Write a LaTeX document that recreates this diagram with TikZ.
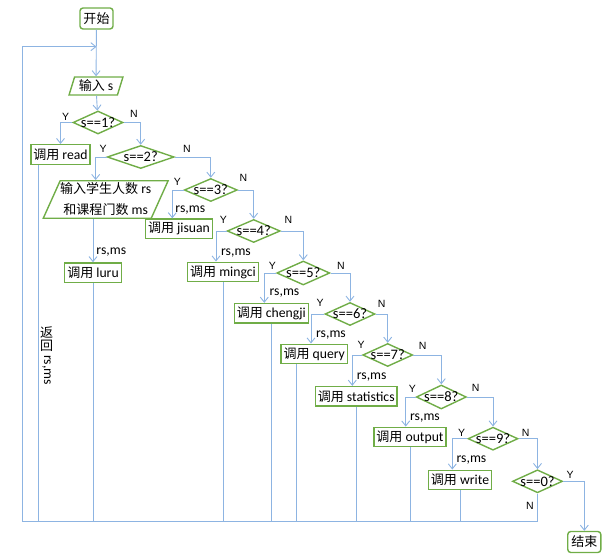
\documentclass[tikz,border=0pt]{standalone}
\usepackage{fontspec}
\setmainfont{Carlito}
\newfontfamily\cjk[Scale=0.95]{Noto Sans CJK SC}
\newfontfamily\arial{Liberation Sans}
\usepackage[RGB]{xcolor}
\usetikzlibrary{shapes.geometric,arrows.meta}
\definecolor{G}{RGB}{112,173,71}
\definecolor{B}{RGB}{141,180,226}
\newcommand{\zh}[1]{{\cjk #1}}
\tikzset{
  box/.style={draw=G,line width=1.4pt,fill=white,inner xsep=2.5pt,inner ysep=0pt,
    minimum height=19.5pt,font=\fontsize{13.7}{21}\selectfont},
  term/.style={box,rounded corners=3pt,inner xsep=3.5pt,minimum height=21pt},
  io/.style={box,trapezium,trapezium stretches=true},
  ask/.style={box,diamond,aspect=2.2,inner sep=-1.5pt,minimum width=50pt,minimum height=23pt,
    font=\fontsize{14.5}{16}\selectfont},
  yn/.style={font=\arial\fontsize{10.5}{12}\selectfont},
  lab/.style={font=\fontsize{13.7}{15}\selectfont,inner sep=0pt},
  flow/.style={draw=B,line width=0.9pt},
  arr/.style={flow,-{Straight Barb[length=5pt,width=8pt]}},
}
\begin{document}
\begin{tikzpicture}[x=1pt,y=-1pt]
\useasboundingbox (0,0) rectangle (612,559);
% boxes
\node[term] (start) at (96.5,18.5) {\zh{开始}};
\node[io,trapezium left angle=67,trapezium right angle=113,minimum width=54pt,minimum height=18pt] (ins) at (96,86) {\zh{输入} s};
\node[ask] (d1) at (98,122.5) {s==1?};
\node[box] (read) at (60.5,154.5) {\zh{调用} read};
\node[ask,minimum width=67pt] (d2) at (140.7,157) {s==2?};
\node[io,trapezium left angle=63,trapezium right angle=117,inner xsep=0pt,minimum width=120pt,minimum height=37.5pt,align=center] (inrm) at (105.7,199.5) {\zh{输入学生人数} rs\\\zh{和课程门数} ms};
\node[box] (luru) at (93,272.7) {\zh{调用} luru};
\node[ask,minimum width=53pt] (d3) at (210.8,190) {s==3?};
\node[box] (jisuan) at (179,228.8) {\zh{调用} jisuan};
\node[ask,minimum width=53pt] (d4) at (253.7,231) {s==4?};
\node[box] (mingci) at (223,272) {\zh{调用} mingci};
\node[ask,minimum width=53pt,minimum height=24pt] (d5) at (303.3,273) {s==5?};
\node[box] (chengji) at (271.3,313.3) {\zh{调用} chengji};
\node[ask] (d6) at (350,314) {s==6?};
\node[box] (query) at (314.2,354) {\zh{调用} query};
\node[ask] (d7) at (387.7,355) {s==7?};
\node[box] (stat) at (356.2,396.3) {\zh{调用} statistics};
\node[ask,minimum height=24pt] (d8) at (441.3,397) {s==8?};
\node[box] (output) at (410,437) {\zh{调用} output};
\node[ask] (d9) at (493,438.7) {s==9?};
\node[box] (write) at (460,480) {\zh{调用} write};
\node[ask] (d0) at (537.5,481.3) {s==0?};
\node[term] (stop) at (584.3,542) {\zh{结束}};
% connectors
\coordinate (botL) at (22,521);
\coordinate (join) at (96.5,46.7);
\draw[arr] (start) -- (ins);
\draw[arr] (ins) -- (d1);
\draw[arr] (d1.west) -| (read.north);
\draw[arr] (d1.east) -| (d2.north);
\draw[arr] (d2.west) -| ([xshift=-10pt]inrm.north);
\draw[arr] (inrm.south -| luru.north) -- (luru.north);
\draw[arr] (d2.east) -| (d3.north);
\draw[arr] (d3.west) -| ([xshift=-6.7pt]jisuan.north);
\draw[arr] (d3.east) -| (d4.north);
\draw[arr] (d4.west) -| ([xshift=-7pt]mingci.north);
\draw[arr] (d4.east) -| (d5.north);
\draw[arr] (d5.west) -| ([xshift=-7pt]chengji.north);
\draw[arr] (d5.east) -| (d6.north);
\draw[arr] (d6.west) -| ([xshift=-3.2pt]query.north);
\draw[arr] (d6.east) -| (d7.north);
\draw[arr] (d7.west) -| ([xshift=-3.9pt]stat.north);
\draw[arr] (d7.east) -| (d8.north);
\draw[arr] (d8.west) -| ([xshift=-4.3pt]output.north);
\draw[arr] (d8.east) -| (d9.north);
\draw[arr] (d9.west) -| ([xshift=-7.7pt]write.north);
\draw[arr] (d9.east) -| (d0.north);
\draw[arr] (d0.east) -| (stop.north);
\foreach \b/\dx in {read/-22.2,luru/0,mingci/0,chengji/0,query/-17.5,stat/0,output/0,write/0}
  \draw[flow] ([xshift=\dx pt]\b.south) -- ([xshift=\dx pt]\b.south |- botL);
\draw[arr] (d0.south) |- (botL) |- (join);
% labels
\foreach \t/\i/\x/\y in {Y/1/65.7/116.7,N/1/134/114,Y/2/103/149,N/2/187/149,
  Y/3/177.3/181.7,N/3/243.3/177.7,Y/4/223.3/220,N/4/288.3/220,
  Y/5/272.3/266,N/5/341/266,Y/6/320/303.3,N/6/381.7/304.3,
  Y/7/361/345,N/7/422.7/346,Y/8/412.3/389.3,N/8/475.7/387.7,
  Y/9/461.7/432.7,N/9/525.7/432.7,Y/0/570/475,N/0/530/505.7}
  \node[yn] (\t\i) at (\x,\y) {\t};
\foreach \i/\x/\y in {luru/111.3/251.7,jisuan/190.3/210,mingci/236/252.7,
  chengji/284.5/293.3,query/331/335,stat/371.7/377.3,output/425/418.3,write/471.5/460}
  \node[lab] (rm\i) at (\x,\y) {rs,ms};
\node[lab] (fan) at (46.7,332.5) {\zh{返}};
\node[lab] (hui) at (46.7,346) {\zh{回}};
\node[lab,rotate=-90] (fanrm) at (46.7,370) {rs,ms};
\end{tikzpicture}
\end{document}
